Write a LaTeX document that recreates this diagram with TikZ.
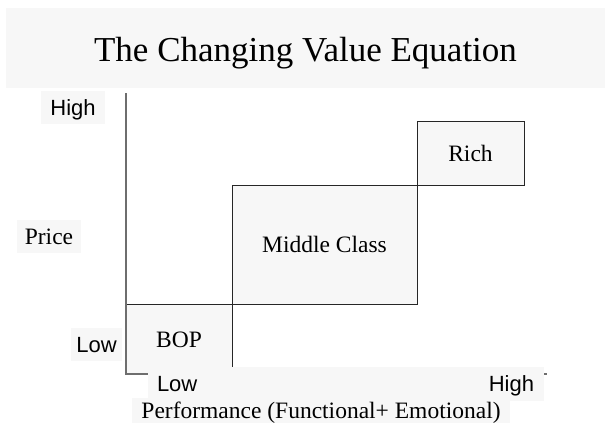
\documentclass[tikz,border=0pt]{standalone}
\usepackage{fontspec}
\setmainfont{Liberation Serif}
\newfontfamily\labelsans{Liberation Sans}
\usetikzlibrary{positioning}

\definecolor{bandgray}{HTML}{F7F7F7}
\definecolor{axisgray}{HTML}{6E6E6E}

\tikzset{
  band/.style={fill=bandgray, inner sep=0pt, text height=16pt, text depth=0pt},
  segbox/.style={band, draw=black!85, line width=0.9pt, font=\fontsize{23.5}{28}\selectfont},
  sanslabel/.style={band, text height=15pt, font=\labelsans\fontsize{22}{26}\selectfont},
  seriflabel/.style={band, font=\fontsize{23.5}{28}\selectfont},
}

\begin{document}
\begin{tikzpicture}[x=1pt, y=-1pt]
\useasboundingbox (0,0) rectangle (605,423);

% Title
\node (title) [band, text height=26pt, minimum width=599pt, minimum height=80pt, font=\fontsize{35}{42}\selectfont] at (305.5,48) {The Changing Value Equation};

% Segments
\node (bop) [segbox, minimum width=106pt, minimum height=70pt] at (179,339) {BOP};
\node (middle) [segbox, minimum width=185pt, minimum height=119pt] at (324.5,244.5) {Middle Class};
\node (rich) [segbox, minimum width=107pt, minimum height=64pt] at (470.5,153) {Rich};

% Axes
\coordinate (ytop) at (126,93);
\coordinate (origin) at (126,374);
\coordinate (xend) at (547,374);
\draw[axisgray, line width=1.3pt] (ytop) -- (origin) -- (xend);

% Axis labels
\node (high) [sanslabel, minimum width=64pt, minimum height=33pt] at (73,107.5) {High};
\node (price) [seriflabel, minimum width=64pt, minimum height=33pt] at (49,236.5) {Price};
\node (low) [sanslabel, minimum width=51pt, minimum height=33pt] at (96.5,344.5) {Low};
\node (xaxis) [band, minimum width=396pt, minimum height=34pt] at (346,384) {};
\node (lowx) [sanslabel, anchor=west] at ([xshift=9pt]xaxis.west) {Low};
\node (highx) [sanslabel, anchor=east] at ([xshift=-10pt]xaxis.east) {High};
\node (perf) [seriflabel, minimum width=378pt, minimum height=25pt] at (321,410.5) {Performance (Functional+ Emotional)};

\end{tikzpicture}
\end{document}
